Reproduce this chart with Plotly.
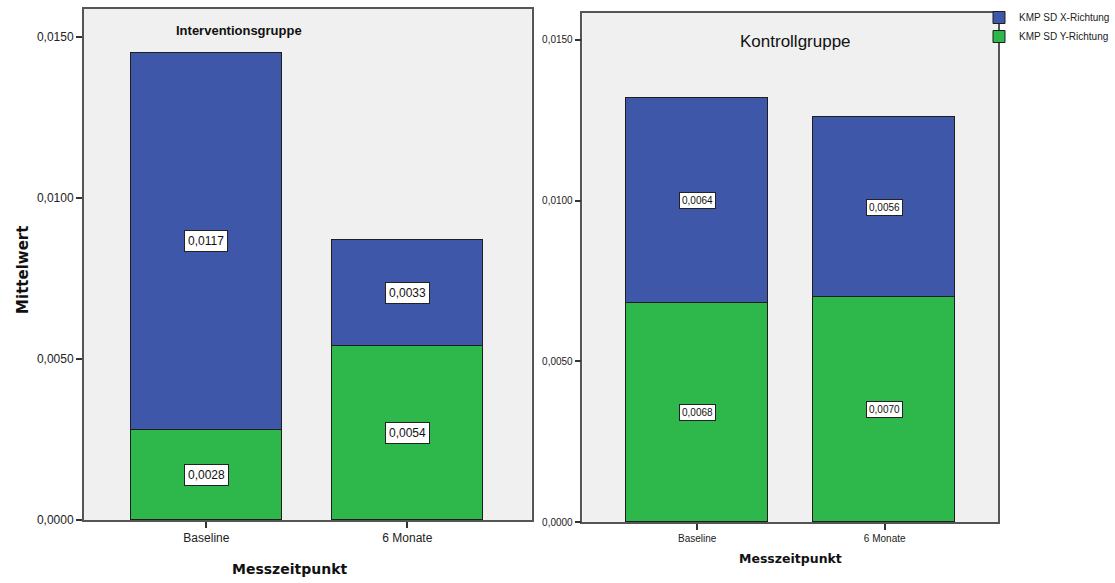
import plotly.graph_objects as go

categories = ["Baseline", "6 Monate"]
series_names = ["KMP SD X-Richtung", "KMP SD Y-Richtung"]
interv_x_richtung = [0.0117, 0.0033]
interv_y_richtung = [0.0028, 0.0054]
kontroll_x_richtung = [0.0064, 0.0056]
kontroll_y_richtung = [0.0068, 0.0070]
y_tick_vals = [0.0, 0.005, 0.010, 0.015]
panel_titles = ["Interventionsgruppe", "Kontrollgruppe"]
x_title = "Messzeitpunkt"
y_title = "Mittelwert"

BLUE = "#3E57A8"
GREEN = "#2EB84B"
EDGE = "#1e1e1e"
FRAME = "#555555"
FONT = "Liberation Sans, Arial, sans-serif"
TFONT = "DejaVu Sans, sans-serif"
W, H = 1115, 583
HE = 576.0  # effective captured height


def fy(p):
    return 1 - p / HE


fig = go.Figure()
xpos = list(range(len(categories)))

panels = [
    dict(xa="x", ya="y", yv=interv_y_richtung, xv=interv_x_richtung, show=True, lab=12),
    dict(xa="x2", ya="y2", yv=kontroll_y_richtung, xv=kontroll_x_richtung, show=False, lab=10),
]
for p in panels:
    fig.add_trace(go.Bar(x=xpos, y=p["yv"], width=0.755, name=series_names[1],
                         marker=dict(color=GREEN, line=dict(color=EDGE, width=1)),
                         xaxis=p["xa"], yaxis=p["ya"], showlegend=p["show"],
                         legendgroup="y", hoverinfo="skip"))
    fig.add_trace(go.Bar(x=xpos, y=p["xv"], width=0.755, name=series_names[0],
                         marker=dict(color=BLUE, line=dict(color=EDGE, width=1)),
                         xaxis=p["xa"], yaxis=p["ya"], showlegend=p["show"],
                         legendgroup="x", hoverinfo="skip"))
    for i in xpos:
        low = p["yv"][i]
        high = p["xv"][i]
        for val, mid in [(low, low / 2), (high, low + high / 2)]:
            fig.add_annotation(x=i, y=mid, xref=p["xa"], yref=p["ya"],
                               xanchor="center", yanchor="middle",
                               text=f"{val:.4f}".replace(".", ","), showarrow=False,
                               font=dict(family=FONT, size=p["lab"], color="#111"),
                               bgcolor="white", bordercolor="#222", borderwidth=1,
                               borderpad=3 if p["lab"] == 12 else 2)

axis_common = dict(showline=True, linecolor=FRAME, linewidth=1.5, mirror=True,
                   showgrid=False, zeroline=False, ticks="outside", ticklen=6,
                   tickcolor="#333", tickwidth=1.5)

fig.update_layout(
    width=W, height=H, autosize=False, margin=dict(l=0, r=0, t=0, b=0),
    paper_bgcolor="white", plot_bgcolor="#F0F0F0",
    barmode="stack", bargap=0, separators=",.",
    font=dict(family=FONT, color="#222"),
    xaxis=dict(domain=[84 / W, 533 / W], range=[-0.610, 1.618], anchor="y",
               tickvals=xpos, ticktext=categories, tickfont=dict(size=12), **axis_common),
    yaxis=dict(domain=[fy(520), fy(9)], range=[0, 0.01587], anchor="x",
               tickvals=y_tick_vals, tickformat=".4f", tickfont=dict(size=12), **axis_common),
    xaxis2=dict(domain=[584 / W, 1001 / W], range=[-0.612, 1.606], anchor="y2",
                tickvals=xpos, ticktext=categories, tickfont=dict(size=10), **axis_common),
    yaxis2=dict(domain=[fy(522), fy(13)], range=[0, 0.01584], anchor="x2",
                tickvals=y_tick_vals, tickformat=".4f", tickfont=dict(size=10), **axis_common),
    legend=dict(x=982 / W, y=fy(3), xanchor="left", yanchor="top",
                traceorder="reversed", bgcolor="rgba(0,0,0,0)",
                font=dict(family=FONT, size=10, color="#222"),
                tracegroupgap=0, itemwidth=30),
    showlegend=True,
)


def ann(x, y, text, size, family, angle=0):
    fig.add_annotation(x=x / W, y=fy(y), xref="paper", yref="paper", text=text,
                       xanchor="center", yanchor="middle", showarrow=False, textangle=angle,
                       font=dict(family=family, size=size, color="#111"))


ann(240, 30, f"<b>{panel_titles[0]}</b>", 13, FONT)
ann(798, 42, panel_titles[1], 17, FONT)
ann(290, 569, f"<b>{x_title}</b>", 14, TFONT)
ann(793, 558, f"<b>{x_title}</b>", 12.5, TFONT)
ann(23, 270, f"<b>{y_title}</b>", 15, TFONT, -90)

js = (
    "var s=document.createElement('style');"
    "s.textContent='html,body{margin:0;padding:0;height:583px;overflow:hidden;}"
    "body>div{position:fixed;top:0;left:0;margin:0;padding:0;}';"
    "document.head.appendChild(s);"
)
fig.write_html("out.html", config=dict(responsive=False, displayModeBar=False), post_script=js)
